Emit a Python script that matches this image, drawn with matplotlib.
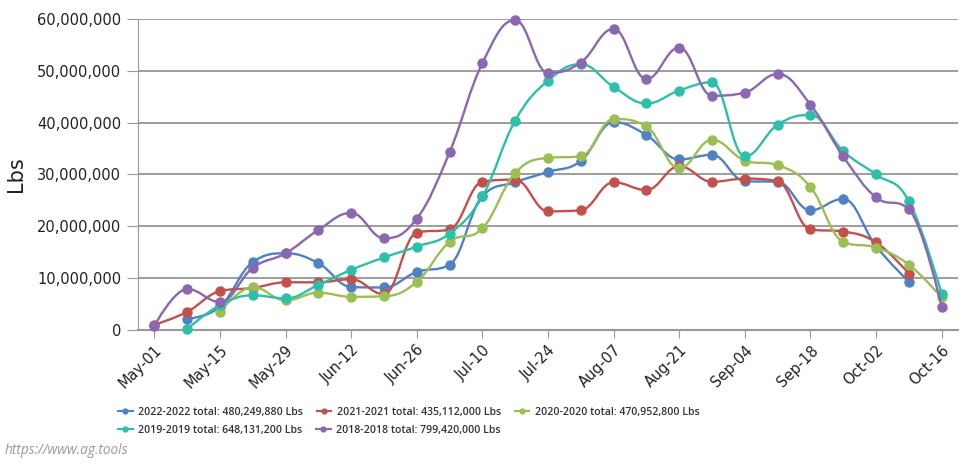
import matplotlib
matplotlib.use("Agg")
import matplotlib.pyplot as plt
import numpy as np
from matplotlib.path import Path
from matplotlib.patches import PathPatch
from matplotlib.ticker import FuncFormatter

# weekly categories
weeks = ["May-01", "May-08", "May-15", "May-22", "May-29", "Jun-05", "Jun-12",
         "Jun-19", "Jun-26", "Jul-03", "Jul-10", "Jul-17", "Jul-24", "Jul-31",
         "Aug-07", "Aug-14", "Aug-21", "Aug-28", "Sep-04", "Sep-11", "Sep-18",
         "Sep-25", "Oct-02", "Oct-09", "Oct-16"]

# values in millions of lbs, None = no data
s2022 = [None, 2.2, 4.5, 13.1, 14.8, 12.9, 8.3, 8.2, 11.2, 12.6, 25.8, 28.5,
         30.5, 32.6, 40.1, 37.6, 32.9, 33.8, 28.7, 28.6, 23.1, 25.3, 16.2, 9.3, None]
s2021 = [1.0, 3.5, 7.5, 8.1, 9.2, 9.2, 9.8, 6.9, 18.8, 19.4, 28.6, 29.0,
         22.9, 23.1, 28.5, 27.0, 31.6, 28.6, 29.2, 28.7, 19.4, 19.0, 16.9, 10.9, None]
s2020 = [None, None, 3.5, 8.3, 5.7, 7.2, 6.4, 6.5, 9.3, 17.0, 19.6, 30.3,
         33.2, 33.5, 40.7, 39.3, 31.2, 36.7, 32.7, 31.8, 27.6, 17.0, 15.9, 12.6, 6.3]
s2019 = [None, 0.2, 4.8, 6.7, 6.1, 8.7, 11.6, 14.0, 16.1, 18.6, 25.8, 40.4,
         48.1, 51.3, 46.9, 43.7, 46.2, 47.8, 33.5, 39.6, 41.5, 34.5, 30.0, 24.9, 7.0]
s2018 = [0.8, 7.9, 5.4, 12.0, 14.8, 19.3, 22.6, 17.7, 21.5, 34.3, 51.5, 59.8,
         49.6, 51.6, 58.1, 48.4, 54.5, 45.2, 45.8, 49.4, 43.5, 33.5, 25.6, 23.3, 4.5]

labels = ["2022-2022 total: 480,249,880 Lbs", "2021-2021 total: 435,112,000 Lbs",
          "2020-2020 total: 470,952,800 Lbs", "2019-2019 total: 648,131,200 Lbs",
          "2018-2018 total: 799,420,000 Lbs"]
colors = ["#4f81c4", "#c4504c", "#9bbf55", "#2dbfa9", "#8a67b0"]


def spline_path(xs, ys, smoothing=1.5):
    # highcharts-like spline through the points
    n = len(xs)
    verts = [(xs[0], ys[0])]
    codes = [Path.MOVETO]
    lc = [None] * n
    rc = [None] * n
    denom = smoothing + 1
    for i in range(n):
        x, y = xs[i], ys[i]
        if i == 0 or i == n - 1:
            lc[i] = (x, y)
            rc[i] = (x, y)
            continue
        lx, ly = xs[i - 1], ys[i - 1]
        nx, ny = xs[i + 1], ys[i + 1]
        lcx = (smoothing * x + lx) / denom
        lcy = (smoothing * y + ly) / denom
        rcx = (smoothing * x + nx) / denom
        rcy = (smoothing * y + ny) / denom
        corr = ((rcy - lcy) * (rcx - x)) / (rcx - lcx) + y - rcy
        lcy += corr
        rcy += corr
        if lcy > ly and lcy > y:
            lcy = max(ly, y)
            rcy = 2 * y - lcy
        elif lcy < ly and lcy < y:
            lcy = min(ly, y)
            rcy = 2 * y - lcy
        if rcy > ny and rcy > y:
            rcy = max(ny, y)
            lcy = 2 * y - rcy
        elif rcy < ny and rcy < y:
            rcy = min(ny, y)
            lcy = 2 * y - rcy
        lc[i] = (lcx, lcy)
        rc[i] = (rcx, rcy)
    for i in range(1, n):
        verts += [rc[i - 1], lc[i], (xs[i], ys[i])]
        codes += [Path.CURVE4] * 3
    return Path(verts, codes)


fig = plt.figure(figsize=(9.69, 4.66), dpi=100)
ax = fig.add_axes([138 / 969, 1 - 330 / 466, (958 - 138) / 969, (330 - 19) / 466])

series = [s2022, s2021, s2020, s2019, s2018]
handles = []
for k, (s, c, lab) in enumerate(zip(series, colors, labels)):
    xs = np.array([i for i, v in enumerate(s) if v is not None], dtype=float)
    ys = np.array([v * 1e6 for v in s if v is not None])
    ax.add_patch(PathPatch(spline_path(xs, ys), fill=False, edgecolor=c,
                           lw=1.7, zorder=3 + k, clip_on=False))
    ax.plot(xs, ys, ls="none", marker="o", ms=6.5, color=c, zorder=3 + k,
            clip_on=False)
    handles.append(ax.plot([], [], "-o", color=c, lw=1.5, ms=3.5, label=lab)[0])

ax.set_xlim(-0.5, len(weeks) - 0.5)
ax.set_ylim(0, 60e6)
ax.set_yticks(np.arange(0, 60e6 + 1, 10e6))
ax.yaxis.set_major_formatter(FuncFormatter(lambda v, p: f"{int(v):,}"))
ax.set_xticks(range(0, len(weeks), 2))
ax.set_xticklabels(weeks[::2], rotation=45, ha="right", rotation_mode="anchor")
ax.grid(axis="y", color="#8c8c8c", lw=1.2, zorder=1)
for sp in ["top", "right"]:
    ax.spines[sp].set_visible(False)
ax.spines["left"].set_color("#999999")
ax.spines["bottom"].set_color("#999999")
ax.spines["bottom"].set_linewidth(1.5)
ax.tick_params(axis="y", length=8, color="#999999", labelsize=10.5,
               labelcolor="#222222", pad=4)
ax.tick_params(axis="x", length=6, color="#999999", labelsize=10.5,
               labelcolor="#222222", pad=3)
ax.set_ylabel("Lbs", fontsize=15, color="#222222", labelpad=8)

leg_font = {"family": "Open Sans", "weight": 600, "size": 7.6}
fig.legend(handles=handles[:3], loc="upper left", bbox_to_anchor=(118 / 969, 1 - 407 / 466),
           ncol=3, frameon=False, handlelength=1.4, handletextpad=0.5,
           columnspacing=1.3, borderaxespad=0, borderpad=0, prop=leg_font,
           labelcolor="#333333")
fig.legend(handles=handles[3:], loc="upper left", bbox_to_anchor=(118 / 969, 1 - 425 / 466),
           ncol=2, frameon=False, handlelength=1.4, handletextpad=0.5,
           columnspacing=1.3, borderaxespad=0, borderpad=0, prop=leg_font,
           labelcolor="#333333")

fig.text(5 / 969, 1 - 451 / 466, "https://www.ag.tools", fontsize=9.8, color="#9a9a9a",
         style="italic", va="center", family=["Open Sans", "DejaVu Sans"])

fig.savefig("out.png", dpi=100)
